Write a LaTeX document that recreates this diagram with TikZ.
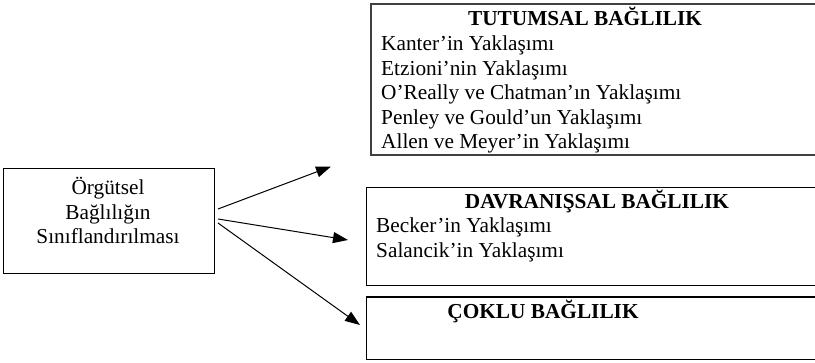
\documentclass[tikz,border=0pt]{standalone}
\usepackage{fontspec}
\setmainfont{Liberation Serif}
\usetikzlibrary{arrows.meta}
\newcommand{\yazi}{\fontsize{21.3}{24.6}\selectfont}

\begin{document}
\begin{tikzpicture}[x=1pt,y=-1pt,>={Triangle[length=15pt,width=11pt]},
  kutu/.style={anchor=north west,inner sep=0pt,minimum width=500},
  kenar/.style={line width=1.1pt},
  madde/.style={anchor=base west,inner sep=0pt,font=\yazi},
  baslik/.style={anchor=base,inner sep=0pt,font=\yazi\bfseries}]
\useasboundingbox (0,0) rectangle (815,363);
\clip (0,0) rectangle (815,363);
\node[draw,kenar,anchor=north west,inner sep=0pt,minimum width=211,minimum height=105] (sinif) at (2.5,168) {};
\node[align=center,inner sep=0pt,font=\yazi] (sinifyazi) at (108,210.5) {Örgütsel\\Bağlılığın\\Sınıflandırılması};
% the three boxes on the right run off the page
\node[kutu,minimum height=150.5] (tutum) at (371,4) {};
\node[kutu,minimum height=97.5] (davranis) at (366.5,187.5) {};
\node[kutu,minimum height=62] (coklu) at (366.5,297) {};
\draw[kenar,draw=black!75,line width=1.6pt] (tutum.north east)--(tutum.north west)--(tutum.south west)--(tutum.south east);
\foreach \k in {davranis,coklu}
  \draw[kenar] (\k.north east)--(\k.north west)--(\k.south west)--(\k.south east);
\node[baslik] (tutumbas) at (585,26) {TUTUMSAL BAĞLILIK};
\foreach \s [count=\i from 0] in {Kanter’in Yaklaşımı,Etzioni’nin Yaklaşımı,O’Really ve Chatman’ın Yaklaşımı,Penley ve Gould’un Yaklaşımı,Allen ve Meyer’in Yaklaşımı}
  \node[madde] (t\i) at (381,50.5+24.6*\i) {\s};
\node[baslik] (davranisbas) at (597,209) {DAVRANIŞSAL BAĞLILIK};
\node[madde] (d0) at (376,233) {Becker’in Yaklaşımı};
\node[madde] (d1) at (376,257.5) {Salancik’in Yaklaşımı};
\node[baslik] (coklubas) at (543,319) {ÇOKLU BAĞLILIK};
\coordinate (c1) at (218,209); \coordinate (u1) at (331,166.5);
\coordinate (c2) at (218,219); \coordinate (u2) at (348,240);
\coordinate (c3) at (218,223); \coordinate (u3) at (360,325);
\draw[->,line width=1pt] (c1)--(u1);
\draw[->,line width=1pt] (c2)--(u2);
\draw[->,line width=1pt] (c3)--(u3);
\end{tikzpicture}
\end{document}
